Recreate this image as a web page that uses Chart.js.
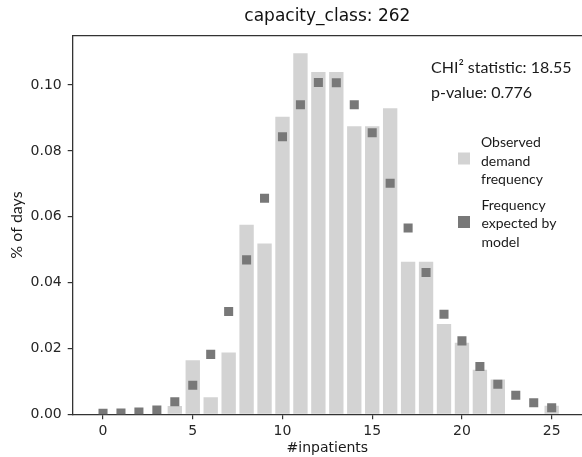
<!DOCTYPE html>
<html>
<head>
<meta charset="utf-8">
<script src="https://cdn.jsdelivr.net/npm/chart.js@4/dist/chart.umd.min.js"></script>
<style>
  html, body { margin: 0; padding: 0; background: #ffffff; }
  #wrap { width: 582px; height: 457px; }
</style>
</head>
<body>
<div id="wrap"><canvas id="c" width="582" height="457"></canvas></div>
<script>
// ---- data ----
const categories = [0,1,2,3,4,5,6,7,8,9,10,11,12,13,14,15,16,17,18,19,20,21,22,23,24,25];
const observed = [0,0,0,0,0.0025,0.0164,0.0052,0.0188,0.0576,0.0519,0.0904,0.1097,0.1040,0.1040,0.0875,0.0875,0.0930,0.0463,0.0463,0.0274,0.0217,0.0135,0.0106,0,0,0.0026];
const expected = [0.0003,0.0004,0.0007,0.0013,0.0038,0.0088,0.0182,0.0312,0.0469,0.0656,0.0843,0.0940,0.1008,0.1007,0.0940,0.0855,0.0702,0.0566,0.0431,0.0304,0.0223,0.0145,0.0091,0.0058,0.0035,0.0020];
const xTicks = [0,5,10,15,20,25];
const yTicks = [0,0.02,0.04,0.06,0.08,0.10];
const titleText = 'capacity_class: 262';
const xLabel = '#inpatients';
const yLabel = '% of days';
const statLines = ['CHI\u00B2 statistic: 18.55', 'p-value: 0.776'];
const legendObserved = ['Observed', 'demand', 'frequency'];
const legendExpected = ['Frequency', 'expected by', 'model'];

const barColor = '#d3d3d3';
const markerColor = '#787878';
const axisColor = '#333333';

const bg = {
  id: 'bg',
  beforeDraw(chart) {
    const ctx = chart.ctx;
    ctx.save();
    ctx.fillStyle = '#ffffff';
    ctx.fillRect(0, 0, chart.width, chart.height);
    ctx.restore();
  }
};

const overlay = {
  id: 'overlay',
  afterDraw(chart) {
    const ctx = chart.ctx;
    const a = chart.chartArea;
    ctx.save();
    // top spine (right spine falls at the image edge)
    ctx.strokeStyle = axisColor;
    ctx.lineWidth = 1.3;
    ctx.beginPath();
    ctx.moveTo(a.left, a.top);
    ctx.lineTo(a.right, a.top);
    ctx.stroke();
    // title, centred over the plot area
    ctx.fillStyle = '#111111';
    ctx.textAlign = 'center';
    ctx.textBaseline = 'alphabetic';
    ctx.font = '17px "DejaVu Sans"';
    ctx.fillText(titleText, (a.left + a.right) / 2, 21);
    // statistics text
    ctx.fillStyle = '#1a1a1a';
    ctx.textAlign = 'left';
    ctx.font = '16px Lato';
    ctx.fillText(statLines[0], 431, 72.5);
    ctx.fillText(statLines[1], 431, 98);
    // legend
    ctx.font = '14px Lato';
    ctx.fillStyle = barColor;
    ctx.fillRect(458, 152.5, 12, 12);
    ctx.fillStyle = markerColor;
    ctx.fillRect(458, 216, 12, 12);
    ctx.fillStyle = '#1a1a1a';
    legendObserved.forEach((t, i) => ctx.fillText(t, 481, 147.3 + i * 18.3));
    legendExpected.forEach((t, i) => ctx.fillText(t, 481.5, 210 + i * 18.3));
    ctx.restore();
  }
};

Chart.defaults.font.family = 'DejaVu Sans';
Chart.defaults.color = '#262626';

new Chart(document.getElementById('c'), {
  type: 'bar',
  data: {
    datasets: [
      {
        type: 'bar',
        label: 'Observed demand frequency',
        data: categories.map((c, i) => ({ x: c, y: observed[i] })),
        backgroundColor: barColor,
        borderWidth: 0,
        categoryPercentage: 1.0,
        barPercentage: 0.8,
        order: 2
      },
      {
        type: 'scatter',
        label: 'Frequency expected by model',
        data: categories.map((c, i) => ({ x: c, y: expected[i] })),
        backgroundColor: markerColor,
        borderWidth: 0,
        pointStyle: 'rect',
        pointRadius: 6.4,
        pointHoverRadius: 6.4,
        clip: 0,
        order: 1
      }
    ]
  },
  options: {
    responsive: false,
    animation: false,
    events: [],
    layout: { autoPadding: false, padding: { left: 0, right: 0, top: 35.7, bottom: 0 } },
    plugins: {
      legend: { display: false },
      tooltip: { enabled: false },
      title: { display: false }
    },
    scales: {
      x: {
        type: 'linear',
        min: -1.69,
        max: 26.69,
        offset: false,
        afterBuildTicks(s) { s.ticks = xTicks.map(v => ({ value: v })); },
        afterFit(s) { s.height = 42.7; },
        ticks: {
          font: { size: 14 },
          color: '#262626',
          padding: 4,
          maxRotation: 0,
          autoSkip: false,
          callback: v => String(v)
        },
        grid: { display: true, offset: false, drawOnChartArea: false, drawTicks: true, tickLength: 5, color: axisColor, lineWidth: 1.2 },
        border: { display: true, color: axisColor, width: 1.3 },
        title: {
          display: true,
          text: xLabel,
          font: { size: 14 },
          color: '#1a1a1a',
          padding: { top: 0, bottom: 0 }
        }
      },
      y: {
        type: 'linear',
        min: 0,
        max: 0.115,
        afterBuildTicks(s) { s.ticks = yTicks.map(v => ({ value: v })); },
        afterFit(s) { s.width = 72.7; },
        ticks: {
          font: { size: 14 },
          color: '#262626',
          padding: 6,
          autoSkip: false,
          callback: v => Number(v).toFixed(2)
        },
        grid: { display: true, drawOnChartArea: false, drawTicks: true, tickLength: 5, color: axisColor, lineWidth: 1.2 },
        border: { display: true, color: axisColor, width: 1.3 },
        title: {
          display: true,
          text: yLabel,
          font: { size: 16, family: 'Lato' },
          color: '#1a1a1a',
          padding: { top: 7.4, bottom: 0 }
        }
      }
    }
  },
  plugins: [bg, overlay]
});
</script>
</body>
</html>
